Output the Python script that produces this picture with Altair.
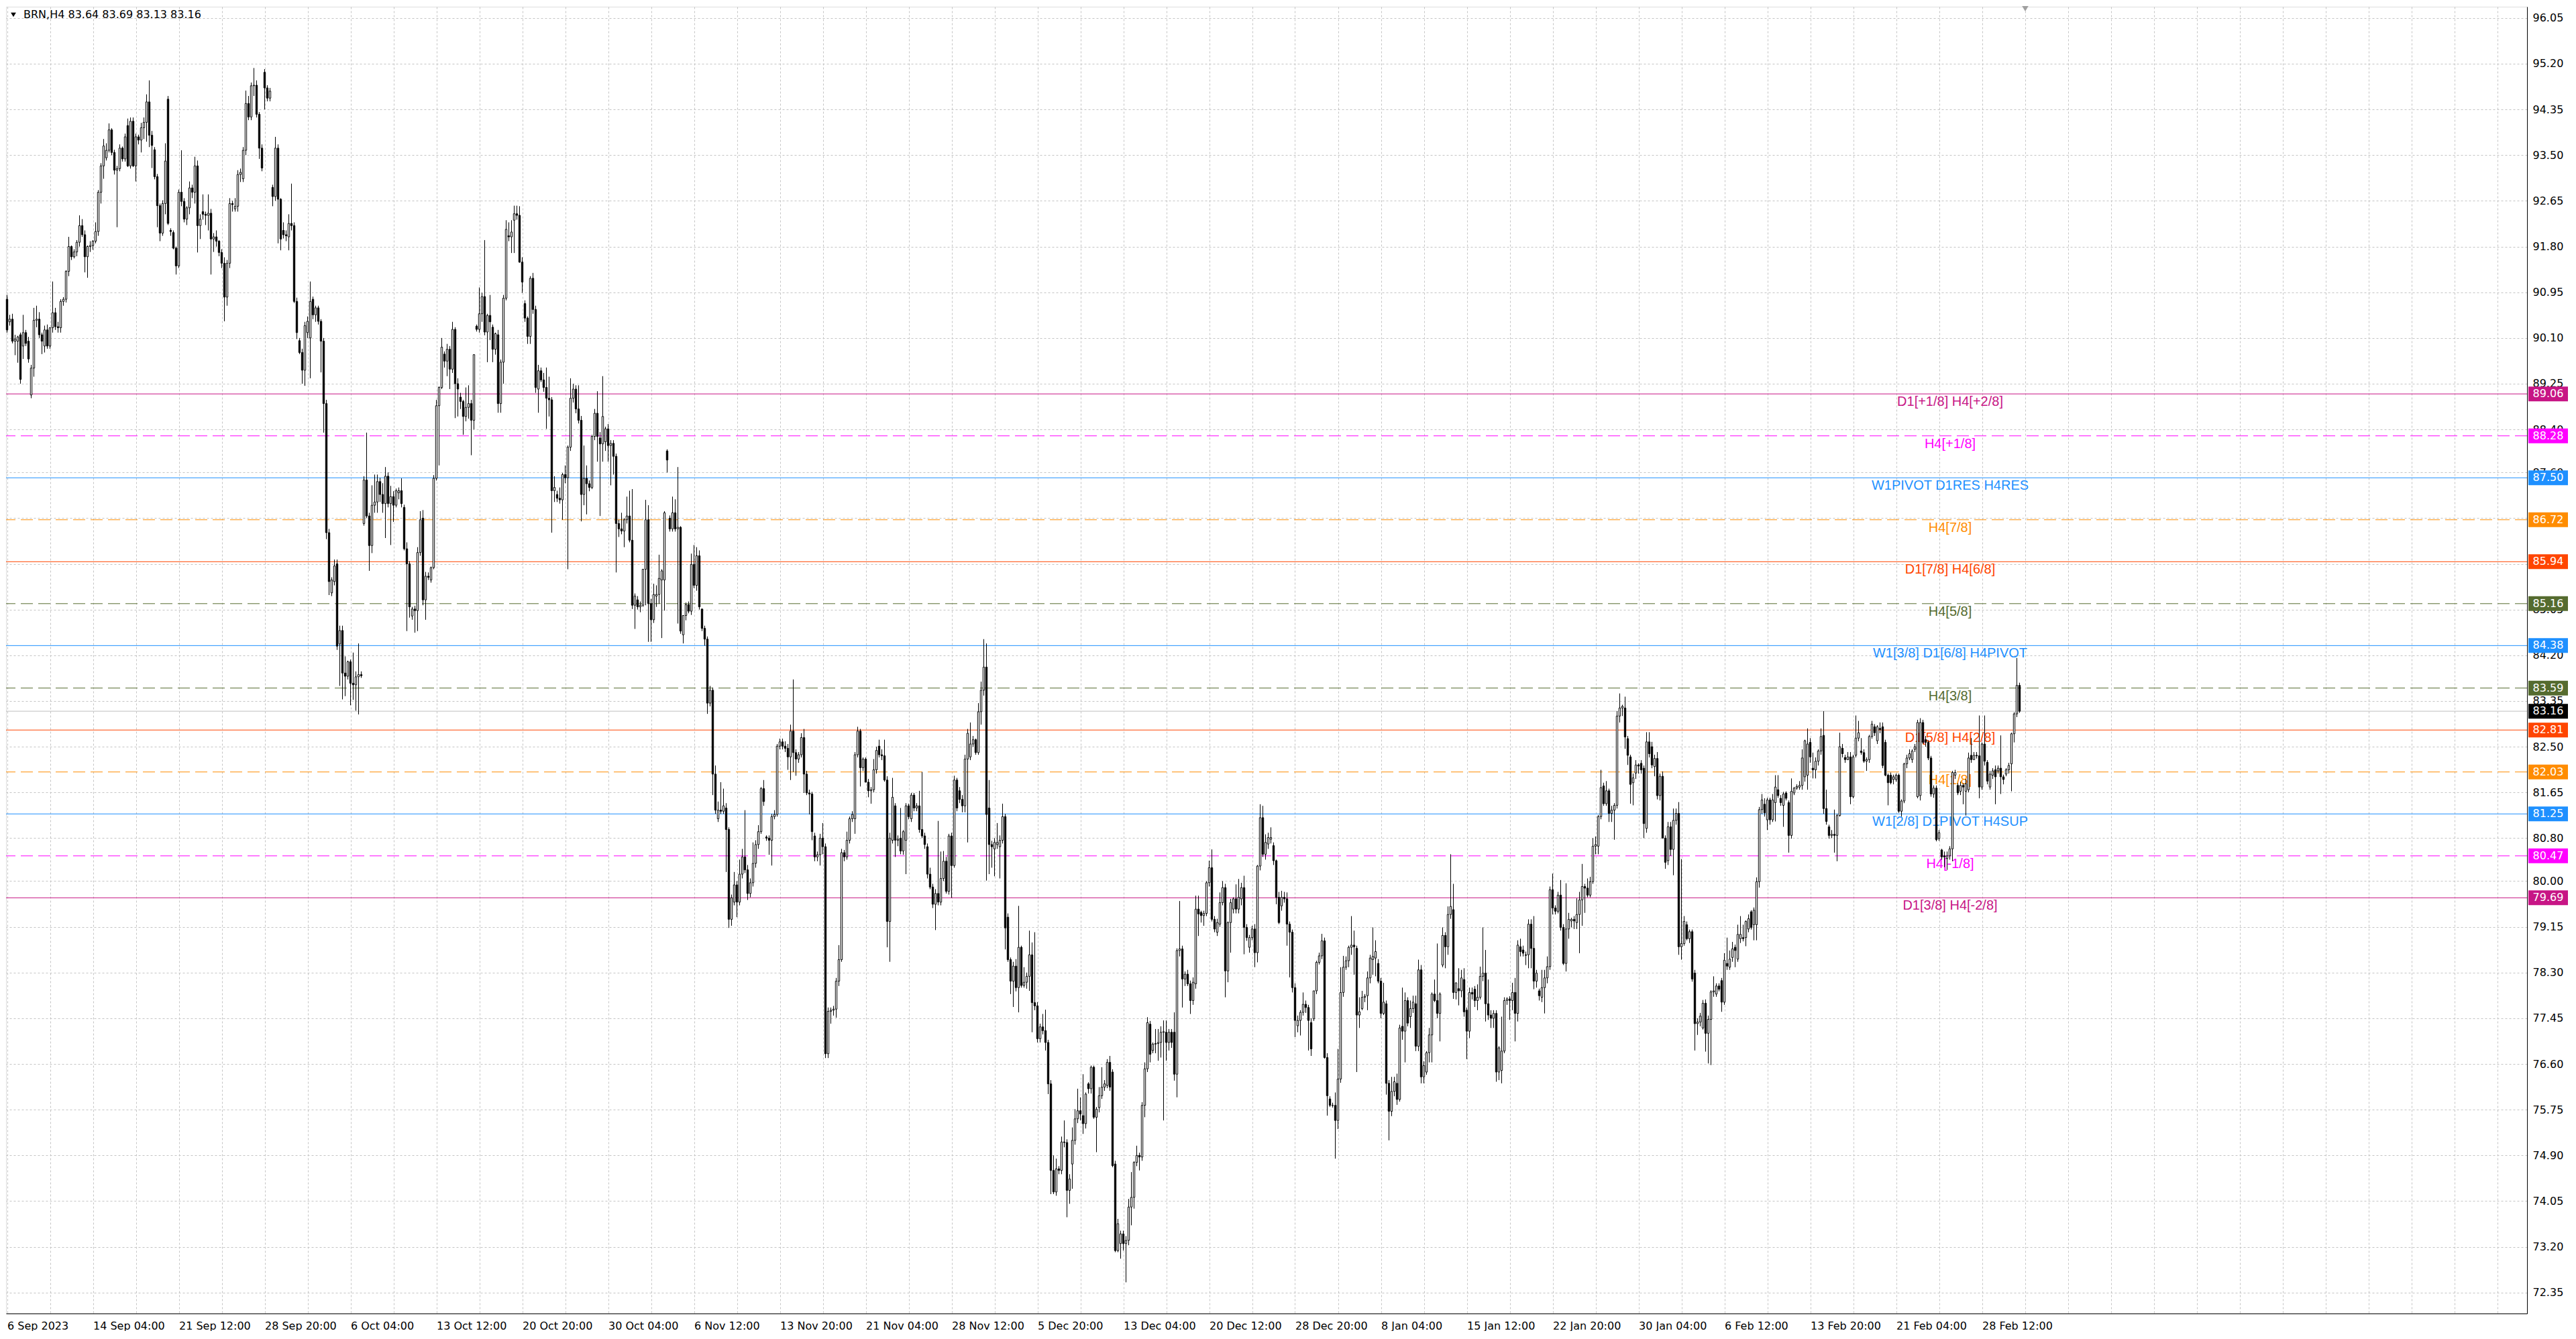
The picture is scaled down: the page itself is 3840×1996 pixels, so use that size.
import altair as alt
import pandas as pd

header_text = "BRN,H4  83.64 83.69 83.13 83.16"

# H4 candles (open, high, low, close), oldest first
seg_sep = [
(90.82,90.90,90.20,90.25),(90.40,90.53,90.33,90.45),(90.45,90.55,90.00,90.04),(90.04,90.16,89.78,90.08),
(90.04,90.14,89.64,90.12),(90.16,90.20,89.25,89.33),(89.95,90.53,89.71,90.20),(90.20,90.25,89.95,90.00),
(90.04,90.12,89.64,89.71),(89.04,89.60,88.98,89.54),(89.54,90.66,89.38,90.43),(90.43,90.70,90.30,90.45),
(90.45,90.58,90.10,90.16),(90.16,90.20,89.80,90.04),(89.95,90.33,89.83,90.25),(90.25,90.35,89.90,89.95),
(89.95,90.30,89.90,90.29),(90.29,91.15,90.20,90.57),(90.57,90.66,90.25,90.31),(90.31,90.40,90.20,90.29),
(90.29,90.82,90.20,90.78),(90.78,90.86,90.70,90.82),(90.82,91.36,90.76,91.34),(91.34,91.98,91.25,91.80),
(91.80,91.82,91.55,91.61),(91.61,91.75,91.58,91.70),(91.70,91.92,91.62,91.88),(91.88,92.38,91.80,92.19),
(92.19,92.31,91.98,92.02),(92.02,92.10,91.32,91.61),(91.61,91.82,91.22,91.80),(91.80,91.90,91.70,91.82),
(91.82,91.92,91.74,91.90),(91.90,92.25,91.86,92.08),(92.08,92.85,92.00,92.81),(92.81,93.35,92.60,93.30),
(93.30,93.80,93.06,93.67),(93.45,93.72,93.40,93.59),(93.59,94.09,93.55,93.97),(93.97,94.00,93.50,93.55),
(93.55,93.60,93.14,93.22),(93.22,93.30,92.16,93.25),(93.25,93.70,93.20,93.63),(93.63,93.66,93.38,93.43),
(93.43,93.90,93.38,93.84),(94.05,94.18,93.28,93.30),(93.30,94.20,93.25,94.13),(94.13,94.20,93.28,93.30),
(93.30,93.90,93.01,93.84),(93.84,93.88,93.70,93.78),(93.78,94.10,93.55,94.01),(94.01,94.20,93.80,94.11),
(94.11,94.63,93.75,94.49),(94.49,94.89,93.65,93.87),(93.87,93.95,93.26,93.68),(93.60,93.65,93.05,93.10),
(93.10,93.15,92.16,92.56),(92.56,92.60,91.90,92.05),(92.05,92.66,92.00,92.60),(92.60,93.72,92.40,93.39),
(94.54,94.60,92.20,92.23),(92.10,92.14,92.00,92.08),(92.06,92.10,91.75,91.77),(91.77,91.80,91.28,91.44),
(91.44,92.86,91.40,92.81),(92.81,93.59,92.55,92.64),(92.64,92.70,92.25,92.31),(92.31,92.55,92.20,92.52),
(92.52,93.01,92.40,92.89),(92.89,92.95,92.70,92.81),(92.81,93.47,92.60,93.30),(93.30,93.40,91.69,92.19),
(92.19,92.40,91.94,92.31),(92.45,92.77,92.30,92.40),(92.40,92.45,92.20,92.38),(92.38,92.77,92.10,92.42),
(92.42,92.50,91.28,91.94),(91.94,92.05,91.70,91.98),(91.98,92.10,91.80,91.90),(91.90,91.92,91.62,91.69),
(91.69,91.75,91.40,91.49),(91.49,91.60,90.41,90.86),(90.86,91.55,90.70,91.49),(91.49,92.70,91.40,92.60),
(92.60,92.65,92.45,92.58),(92.50,92.70,92.45,92.55),(92.55,93.22,92.45,93.14),(93.14,93.25,93.00,93.18),
(93.06,93.65,93.00,93.59),(93.59,94.70,93.50,94.46),(94.46,94.60,94.15,94.21),(94.21,94.85,94.15,94.79),
(94.79,95.12,94.60,94.80),(94.80,94.89,94.20,94.26),(94.26,94.30,93.43,93.63),(93.63,93.70,93.20,93.26),
(95.04,95.10,94.35,94.75),(94.75,94.80,94.50,94.56),(94.56,94.75,94.50,94.69),(92.90,92.95,92.55,92.73),
(92.73,93.84,92.65,93.63),(93.63,93.70,91.86,92.68),(92.68,92.70,91.73,91.94),(92.10,92.25,91.95,92.02),
(92.02,92.10,91.90,92.00),(91.98,92.40,91.73,92.23),(92.23,92.97,92.10,92.19),(92.19,92.25,90.75,90.78),
(90.78,90.85,90.08,90.20),(90.05,90.10,89.80,89.83),(89.83,89.90,89.25,89.50),(89.50,90.40,89.21,90.33),
(90.20,90.50,90.10,90.41),(90.10,91.15,89.35,90.78),(90.82,90.87,90.45,90.53),(90.53,90.70,90.40,90.66),
(90.66,90.70,90.35,90.41),(90.41,90.45,89.46,90.04),(90.04,90.10,88.34,88.88),(88.88,88.95,86.36,86.48),
(86.48,86.55,85.32,85.57),(85.36,85.65,85.30,85.60),(85.57,85.98,85.50,85.86),(85.90,85.98,84.30,84.37),
(84.41,84.75,83.63,84.66),(84.66,84.75,83.38,83.87),
]

seg_oct = [
(83.87,84.18,83.44,83.81),(83.81,84.10,83.75,84.08),(84.08,84.12,83.27,83.68),(83.68,84.25,83.37,83.65),
(83.65,83.90,83.17,83.80),(83.80,84.42,83.10,83.84),(83.84,83.90,83.78,83.82),(86.65,87.53,86.61,87.46),
(87.46,88.34,86.75,86.79),(86.79,86.85,85.77,86.24),(86.24,87.36,86.10,86.99),(86.99,87.56,86.85,87.05),
(87.05,87.56,86.85,87.43),(87.43,87.50,87.05,87.19),(87.19,87.40,86.85,87.02),(87.02,87.70,86.38,87.53),
(87.53,87.60,86.95,87.02),(87.02,87.35,86.25,87.15),(87.15,87.25,86.68,86.99),(86.99,87.30,86.95,87.26),
(87.22,87.32,87.10,87.26),(87.26,87.49,86.95,87.02),(86.95,87.00,86.15,86.18),(86.18,86.30,84.65,85.90),
(85.90,85.95,84.90,85.10),(84.93,85.10,84.86,85.06),(85.06,85.12,84.62,85.03),(85.03,86.21,84.65,86.11),
(86.11,86.88,86.05,86.72),(86.75,86.90,85.13,85.23),(85.23,85.75,84.86,85.67),(85.67,85.74,85.60,85.65),
(85.60,85.85,85.55,85.83),(85.83,87.55,85.80,87.49),(87.49,88.95,87.45,88.84),(88.84,89.20,87.73,89.18),
(89.18,90.10,89.15,89.93),(89.80,89.85,89.55,89.67),(89.67,89.99,89.39,89.89),(89.89,89.95,89.15,89.52),
(89.52,90.40,89.45,90.26),(90.26,90.30,88.61,89.25),(89.25,89.35,88.64,89.15),(89.00,89.08,88.78,88.92),
(88.92,88.95,88.30,88.64),(88.64,89.18,88.55,88.81),(88.81,89.22,88.60,88.88),(88.88,88.95,87.92,88.57),
(88.57,89.79,88.40,89.79),(90.32,90.35,90.22,90.26),(90.26,91.04,90.20,90.55),(90.55,90.94,90.40,90.87),
(90.87,91.92,90.15,90.21),(90.21,90.55,89.65,90.52),(90.52,90.90,90.06,90.40),(90.30,90.35,89.65,89.89),
(89.89,90.20,89.79,90.18),(90.16,90.25,88.71,88.88),(88.88,89.70,88.71,89.65),(89.65,90.90,89.25,90.84),
(90.84,92.29,90.80,92.12),(92.00,92.25,91.90,91.98),(91.98,92.29,91.68,92.07),(92.29,92.56,91.68,92.41),
(92.41,92.56,92.30,92.38),(92.38,92.55,91.50,91.51),(91.51,91.60,90.94,91.14),(90.74,90.80,90.40,90.47),
(90.47,90.50,89.99,90.13),(90.13,91.25,89.99,91.21),(91.21,91.31,90.55,90.63),(90.63,90.70,89.08,89.18),
(89.15,89.60,88.71,89.49),(89.49,89.55,89.28,89.32),(89.32,89.45,89.10,89.18),(89.18,89.55,88.41,88.98),
(88.98,89.38,88.64,88.95),(88.95,89.00,86.48,87.26),(87.26,87.53,87.05,87.32),(87.19,87.26,87.05,87.12),
(87.12,87.32,87.02,87.09),(87.09,87.59,86.72,87.56),(87.56,87.73,87.40,87.50),(87.50,88.10,85.80,88.07),
(88.07,89.35,88.00,88.98),(88.98,89.25,88.90,89.15),(89.15,89.22,88.70,88.78),(88.78,89.22,88.51,88.57),
(88.57,88.65,86.69,87.19),(87.19,88.10,86.99,87.49),(87.49,87.73,86.82,87.39),(87.39,87.45,87.25,87.32),
(87.32,88.30,87.29,88.27),(88.27,88.78,88.20,88.70),(88.70,89.11,87.80,88.27),(88.24,88.35,86.79,88.13),
(88.13,89.39,87.80,88.64),(88.17,88.45,88.00,88.41),(88.41,88.50,87.80,88.10),(88.10,88.20,87.36,88.14),
(88.14,88.20,87.56,87.90),(87.90,87.95,85.74,86.65),(86.65,86.72,86.40,86.55),(86.55,86.85,86.45,86.51),
(86.51,86.75,86.21,86.72),(86.72,87.15,86.65,86.79),(86.79,87.26,86.30,86.34),(86.34,87.29,85.06,85.13),
(85.13,85.35,84.69,85.30),(85.23,85.30,85.05,85.10),(85.10,85.20,85.00,85.13),(85.13,85.80,85.10,85.80),
(85.80,87.09,85.13,86.72),(86.72,86.99,84.45,85.16),(85.16,85.25,84.45,84.86),(84.86,85.53,84.80,85.33),
(85.30,85.50,85.10,85.33),(85.33,86.07,85.16,85.63),(85.60,85.80,84.52,85.77),(85.60,86.88,85.03,86.85),
(88.00,88.03,87.60,87.83),(86.75,86.80,86.50,86.55),(86.55,87.15,86.50,86.85),(86.85,87.10,86.50,86.55),
(86.55,87.70,84.79,86.58),(86.58,86.60,84.60,84.65),
]

seg_nov = [
(84.58,84.94,84.42,84.94),(84.94,85.18,84.85,85.14),(85.14,85.20,84.98,85.02),(85.02,86.09,84.95,85.89),
(85.89,86.25,85.45,85.50),(85.50,86.21,85.40,86.05),(86.05,86.15,85.05,85.10),(85.06,85.06,84.65,84.70),
(84.70,84.75,84.38,84.50),(84.50,84.55,83.11,83.31),(83.31,83.63,83.25,83.55),(83.55,83.60,81.60,81.99),
(81.99,82.15,81.25,81.32),(81.16,81.48,81.10,81.32),(81.32,81.84,81.25,81.30),(81.30,81.72,81.25,81.40),
(81.36,81.45,80.17,80.96),(80.96,81.00,79.13,79.29),(79.29,79.75,79.17,79.69),(79.61,80.17,79.55,79.93),
(79.93,80.00,79.33,79.61),(79.61,80.40,79.55,80.13),(80.13,80.60,80.05,80.45),(80.45,81.32,80.15,80.21),
(80.21,80.30,79.65,79.77),(79.77,80.05,79.70,79.97),(79.97,80.72,79.90,80.33),(80.33,80.76,80.25,80.68),
(80.68,81.04,80.60,80.92),(80.92,81.75,80.88,81.72),(81.72,81.88,81.40,81.48),(80.82,80.85,80.75,80.80),
(80.80,80.85,80.49,80.76),(80.76,81.25,80.29,81.20),(81.20,81.32,81.15,81.24),(81.24,82.55,81.20,82.51),
(82.51,82.65,82.45,82.59),(82.59,82.65,82.45,82.51),(82.51,82.60,82.40,82.47),(82.47,82.55,82.07,82.31),
(82.31,82.91,81.88,82.79),(82.79,83.75,82.03,82.39),(82.39,82.45,81.96,82.27),(82.27,82.40,82.20,82.35),
(82.35,82.75,82.30,82.67),(82.67,82.83,81.64,81.99),(81.99,82.05,81.60,81.64),(81.64,81.70,81.24,81.62),
(81.62,81.66,80.76,80.92),(80.84,80.90,80.37,80.45),(80.45,80.55,80.37,80.49),(80.49,80.88,80.29,80.80),
(80.80,81.08,80.50,80.64),(80.64,80.70,76.71,76.79),(76.79,77.65,76.71,77.58),(77.58,77.65,77.35,77.60),
(77.60,77.68,77.50,77.62),(77.62,78.20,77.46,78.14),(78.14,78.81,78.05,78.54),(78.54,80.60,78.50,80.53),
(80.53,80.58,80.37,80.45),(80.45,80.92,80.40,80.76),(80.76,81.20,80.70,81.16),(81.16,81.30,81.10,81.24),
(81.16,82.40,80.88,82.35),(82.35,82.87,82.30,82.79),(82.79,82.83,81.76,82.11),(82.11,82.30,82.05,82.27),
(82.27,82.30,81.84,81.84),(81.84,81.90,81.56,81.68),(81.68,81.75,81.44,81.70),(81.70,82.27,81.65,82.07),
(82.07,82.50,82.00,82.43),(82.51,82.63,82.30,82.35),(82.35,82.45,82.25,82.33),(82.33,82.63,81.85,81.88),
(81.88,81.95,78.77,79.25),(79.25,80.90,78.50,80.80),(80.76,81.92,80.70,81.56),(81.40,81.45,80.45,80.76),
(80.76,80.85,80.65,80.78),(80.80,81.36,80.50,80.56),(80.56,80.95,80.49,80.92),(80.76,81.45,80.13,81.40),
(81.40,81.44,81.15,81.20),(81.16,81.64,81.10,81.60),(81.60,81.64,81.30,81.36),(81.36,81.45,81.30,81.40),
(81.40,81.68,80.90,80.96),(80.96,82.03,80.80,80.84),(80.84,80.90,80.60,80.68),(80.64,80.70,80.05,80.13),
(80.13,80.25,79.85,79.89),(79.89,79.95,79.50,79.57),(79.57,79.85,79.09,79.77),(79.77,81.12,79.55,79.61),
(79.61,80.55,79.55,80.05),(80.05,80.56,80.00,80.37),(80.37,80.45,79.77,79.81),(79.81,80.88,79.75,80.84),
(80.84,80.90,79.69,80.29),(80.29,81.96,80.25,81.88),(81.88,81.92,81.30,81.36),(81.68,81.75,81.45,81.52),
(81.52,81.60,81.28,81.40),(81.40,82.35,81.28,82.27),(82.27,82.83,80.72,82.75),(82.31,82.95,82.25,82.55),
(82.55,82.70,82.50,82.63),(82.63,82.65,82.35,82.39),(82.39,83.31,82.35,83.15),(83.15,83.71,82.91,83.55),
(83.55,84.50,83.45,83.98),(83.98,84.42,80.01,81.24),(81.36,81.88,80.13,80.68),(80.68,80.75,80.25,80.64),
(80.60,80.80,80.09,80.72),(80.68,81.08,80.60,80.72),(80.64,80.85,80.05,80.76),(80.76,81.44,80.70,81.20),
(81.20,81.25,78.73,79.13),(79.33,79.40,78.50,78.54),(78.54,78.58,77.90,78.14),(78.14,78.50,77.66,78.42),
]

seg_dec = [
(78.42,78.55,77.95,78.02),(78.02,79.54,77.56,78.77),(78.77,78.80,78.02,78.06),(78.06,78.40,78.02,78.12),
(78.12,78.30,78.00,78.23),(78.23,79.08,77.96,78.63),(78.63,78.86,77.19,77.74),(77.74,79.05,77.60,77.68),
(77.68,77.75,77.00,77.07),(77.07,77.35,77.00,77.29),(77.29,77.53,77.15,77.22),(77.22,77.61,76.85,77.00),
(77.00,77.05,76.04,76.23),(76.23,76.30,74.18,74.62),(74.62,74.90,74.18,74.22),(74.22,74.84,74.15,74.65),
(74.65,74.70,74.55,74.62),(74.62,75.25,74.55,75.15),(75.15,75.55,75.05,75.14),(75.14,75.20,73.75,74.25),
(74.25,74.55,74.00,74.46),(74.74,75.42,74.28,75.18),(75.18,75.76,75.10,75.58),(75.58,76.14,75.50,75.73),
(75.73,75.98,75.55,75.67),(75.64,76.41,75.30,75.49),(75.49,76.07,75.40,76.04),(76.23,76.26,76.05,76.14),
(76.14,76.57,76.05,76.54),(76.54,76.57,75.58,75.61),(75.61,75.80,74.96,75.76),(75.79,76.17,75.70,76.01),
(76.01,76.54,75.95,76.17),(76.17,76.30,76.10,76.23),(76.20,76.69,76.15,76.63),(76.63,76.75,76.10,76.17),
(76.45,76.50,74.68,74.71),(74.74,74.80,73.10,73.13),(73.13,73.72,73.10,73.63),(73.26,73.50,72.98,73.44),
(73.44,73.50,73.13,73.26),(73.26,73.40,72.54,73.32),(73.32,74.09,73.23,73.94),(73.94,74.59,73.60,74.12),
(74.12,74.79,73.91,74.77),(74.77,75.08,74.70,74.90),(74.90,74.95,74.62,74.87),(74.87,75.89,74.80,75.83),
(75.83,76.63,75.61,76.51),(76.51,77.47,76.45,77.37),(77.34,77.40,76.63,76.78),(76.85,77.00,76.80,76.97),
(76.97,77.25,76.80,76.98),(76.98,77.25,76.66,77.00),(77.00,77.30,76.72,77.19),(77.19,77.41,75.55,77.20),
(77.19,77.41,76.66,77.00),(77.00,77.25,76.85,77.19),(77.19,77.25,76.90,77.00),(77.19,77.56,76.29,76.41),
(76.41,78.75,75.98,78.71),(78.71,79.63,78.60,78.74),(78.74,78.80,77.65,78.18),(78.18,78.32,78.05,78.27),
(78.27,78.35,78.05,78.09),(78.09,78.15,77.53,77.78),(77.78,78.21,77.70,78.12),(78.09,79.73,78.00,79.48),
(79.48,79.73,78.98,79.39),(79.42,79.45,79.23,79.36),(79.36,79.45,79.17,79.40),(79.40,80.00,79.35,79.97),
(79.97,80.38,79.90,80.25),(80.25,80.59,79.25,79.29),(79.29,79.35,79.05,79.11),(79.05,79.30,78.98,79.23),
(79.20,79.79,79.15,79.60),(79.60,80.00,79.55,79.88),(79.88,79.95,77.84,78.33),(78.33,79.25,78.12,79.23),
(79.23,79.67,78.67,79.60),(79.48,79.70,79.40,79.67),(79.67,79.94,79.40,79.48),(79.48,80.04,79.40,79.70),
(79.67,79.97,79.55,79.88),(79.88,80.10,78.64,79.14),(79.14,79.20,78.89,78.95),(78.77,79.00,78.67,78.95),
(78.95,79.17,78.90,79.11),(79.11,79.20,78.40,78.67),(78.67,80.30,78.49,80.28),(80.28,81.43,80.20,81.18),
(81.18,81.40,80.45,80.50),(80.50,80.87,80.40,80.72),(80.69,80.90,80.60,80.81),(80.78,81.00,80.70,80.81),
(80.66,80.72,80.30,80.38),(80.38,80.40,79.57,79.70),(79.70,79.80,79.20,79.23),(79.54,79.82,79.45,79.70),
(79.70,79.80,79.60,79.67),(79.67,79.79,78.80,79.20),(79.20,79.25,78.21,79.05),(79.05,79.10,77.93,78.02),
(78.02,78.10,77.10,77.41),(77.31,77.50,77.19,77.41),(77.41,77.60,77.13,77.56),(77.56,77.93,77.50,77.71),
(77.71,77.78,77.55,77.65),(77.65,77.70,76.85,77.41),(77.37,77.45,76.75,76.88),(77.44,77.96,77.40,77.96),
(77.96,78.52,77.90,78.49),(78.49,78.67,78.45,78.61),(78.61,79.02,78.55,78.89),(78.89,78.95,76.70,76.72),
(76.72,76.80,75.64,76.01),(75.95,76.00,75.80,75.83),(75.83,75.88,75.79,75.83),(75.83,76.07,74.84,75.55),
(75.55,76.88,75.39,76.32),(76.32,78.40,76.25,77.93),(77.93,78.61,77.85,78.40),(78.40,78.60,78.35,78.52),
(78.52,78.80,78.40,78.77),
]

seg_jan = [
(78.77,79.35,78.63,78.81),(78.81,79.08,78.26,78.78),(78.75,78.80,76.45,77.51),(77.51,77.84,77.27,77.57),
(77.63,77.96,77.60,77.84),(77.84,77.90,77.75,77.86),(77.87,78.32,77.60,78.20),(78.20,78.63,78.10,78.57),
(78.54,79.14,78.26,78.60),(78.57,78.90,78.23,78.69),(78.47,78.55,78.10,78.14),(78.14,78.20,77.45,77.54),
(77.54,78.11,77.51,77.75),(77.72,77.78,76.03,76.24),(76.24,76.30,75.18,75.72),(75.72,76.36,75.63,76.09),
(76.09,76.36,76.00,76.27),(76.24,76.42,75.84,75.94),(75.94,77.33,75.90,77.27),(77.30,78.02,77.05,77.21),
(77.21,77.93,76.63,77.78),(77.78,77.84,77.30,77.36),(77.48,77.78,77.27,77.63),(77.63,77.87,77.55,77.75),
(77.72,77.87,76.84,76.93),(76.93,78.54,76.84,78.35),(78.35,78.44,76.24,76.36),(76.36,76.65,76.24,76.57),
(76.45,76.84,76.40,76.81),(76.81,77.27,76.63,77.14),(77.14,77.93,76.63,77.90),(77.90,78.17,77.75,77.78),
(77.78,78.84,77.45,77.54),(77.54,77.93,77.02,77.90),(78.44,79.14,78.40,78.99),(78.99,79.05,78.38,78.78),
(78.78,79.53,78.63,79.38),(79.38,80.50,79.30,79.53),(79.47,79.95,77.81,77.93),(77.93,78.11,77.80,78.11),
(78.00,78.38,77.69,77.96),(77.96,78.35,77.84,78.20),(78.17,78.38,77.48,77.57),(77.60,77.65,76.69,77.21),
(77.21,78.02,77.08,77.93),(77.93,78.02,77.80,77.90),(77.99,78.05,77.66,77.78),(77.78,78.08,77.60,77.84),
(77.84,78.41,77.80,78.23),(78.23,79.14,78.14,78.29),(78.29,78.72,77.39,77.72),(77.72,78.17,77.42,77.51),
(77.51,77.60,77.27,77.45),(77.45,77.60,77.27,77.54),(77.54,77.60,76.27,76.45),(76.45,76.93,76.30,76.90),
(76.48,77.48,76.24,76.84),(76.84,77.84,76.80,77.78),(77.78,77.84,77.70,77.81),(77.81,77.86,77.42,77.78),
(77.78,78.11,77.60,77.93),(77.93,78.20,77.02,77.54),(77.54,78.90,77.39,78.81),(78.78,78.93,78.60,78.69),
(78.72,78.80,78.60,78.66),(78.63,78.69,78.44,78.62),(78.63,79.29,78.38,79.20),(79.20,79.29,78.38,78.75),
(78.75,79.35,77.99,78.14),(78.14,78.35,78.02,78.29),(77.96,78.00,77.78,77.87),(77.84,78.35,77.75,78.02),
(78.02,78.35,77.54,78.20),(78.20,78.60,78.10,78.41),(78.41,79.90,78.35,79.84),(79.84,80.14,79.38,79.50),
(79.50,79.55,79.38,79.44),(79.44,79.80,79.40,79.74),(79.74,80.02,79.08,79.14),(79.14,79.20,78.44,78.47),
(78.47,79.96,78.32,79.11),(79.11,79.41,78.93,79.29),(79.26,79.32,79.14,79.29),(79.29,79.35,79.11,79.26),
(79.23,79.68,79.11,79.38),(79.38,79.80,78.66,79.65),(79.65,80.32,79.17,79.90),(79.90,79.95,79.41,79.87),
(79.87,80.05,79.70,79.74),(79.74,80.08,79.70,79.99),(79.99,80.80,79.95,80.65),(80.65,80.83,80.50,80.68),
(80.65,81.23,80.50,81.20),(81.20,82.07,81.15,81.74),(81.77,81.83,81.40,81.44),(81.44,81.86,81.40,81.68),
(81.68,81.72,81.10,81.26),(81.26,81.40,81.10,81.32),(81.32,81.45,80.77,81.41),(81.41,83.16,81.35,83.07),
(83.07,83.49,82.95,83.22),(83.22,83.28,83.07,83.25),(83.22,83.43,82.46,82.68),(82.65,82.70,82.16,82.34),
(82.31,82.35,81.44,81.80),(81.83,82.00,81.41,81.92),(82.01,82.25,81.90,82.16),(82.16,82.19,82.00,82.14),
(82.19,82.25,82.00,82.07),(82.10,82.15,80.80,81.07),(80.98,82.77,80.90,82.59),(82.59,82.77,82.30,82.37),
(82.50,82.59,82.10,82.16),(82.13,82.35,81.95,82.28),(82.28,82.40,81.52,81.59),(81.59,82.00,81.50,81.95),
(81.95,82.04,80.80,80.80),(80.80,80.85,80.23,80.35),(80.38,81.10,80.30,81.01),(81.01,81.10,80.47,80.59),
(80.59,81.35,80.11,81.13),(81.13,81.35,81.05,81.26),(81.26,81.47,78.63,78.78),(78.78,80.41,78.54,78.84),
(78.84,79.35,78.80,79.25),
]

seg_feb = [
(79.19,79.25,78.90,78.93),(78.93,79.10,78.85,79.06),(79.06,79.10,78.13,78.18),(78.29,78.35,76.85,77.35),
(77.35,77.45,77.14,77.38),(77.38,77.55,77.30,77.49),(77.27,77.79,77.24,77.73),(77.73,77.80,76.83,77.17),
(77.17,77.50,76.61,77.43),(77.43,77.97,76.58,77.94),(77.94,78.23,77.85,77.96),(77.90,78.10,77.85,78.05),
(78.05,78.10,77.95,77.99),(78.15,78.20,77.57,77.75),(77.75,78.66,77.70,78.53),(78.47,78.95,78.35,78.42),
(78.40,78.71,78.35,78.55),(78.58,78.87,78.50,78.74),(78.77,78.82,78.40,78.71),(78.55,79.19,78.50,79.01),
(78.93,79.35,78.85,79.01),(78.95,79.19,78.88,78.93),(78.95,79.27,78.79,79.25),(79.11,79.38,79.05,79.30),
(79.43,79.46,79.10,79.14),(79.19,79.51,78.90,79.46),(79.19,80.07,78.90,79.99),(79.99,81.38,79.88,81.33),
(81.33,81.62,81.25,81.51),(81.43,81.54,81.20,81.27),(81.14,81.55,80.95,81.51),(81.51,81.55,81.05,81.14),
(81.14,81.62,81.10,81.51),(81.46,81.97,81.11,81.75),(81.70,81.97,81.55,81.59),(81.54,81.60,81.40,81.46),
(81.41,81.66,81.01,81.62),(81.64,81.67,81.50,81.54),(81.46,81.50,80.53,80.85),(80.85,81.91,80.79,81.67),
(81.64,81.75,81.60,81.73),(81.73,81.80,81.70,81.76),(81.75,81.86,81.70,81.78),(81.78,82.45,81.70,82.29),
(81.94,82.63,81.85,82.61),(81.97,82.84,81.70,82.55),(82.58,82.66,82.20,82.31),(82.10,82.39,81.91,82.07),
(82.07,82.30,81.91,82.23),(82.23,82.45,82.15,82.42),(82.42,82.84,82.35,82.69),(82.71,83.16,81.25,81.35),
(81.35,81.70,81.05,81.11),(81.01,81.05,80.79,80.85),(80.85,80.95,80.80,80.87),(80.87,81.33,80.53,80.85),
(80.85,81.25,80.37,81.22),(81.22,82.76,81.20,82.50),(82.47,82.55,82.30,82.37),(82.30,82.35,82.20,82.26),
(82.26,82.40,82.25,82.31),(82.31,82.40,81.43,81.57),(81.57,82.35,81.54,82.31),(82.34,83.08,82.30,82.66),
(82.66,82.98,82.60,82.76),(82.42,82.66,82.35,82.39),(82.39,82.45,82.20,82.23),(82.23,82.30,82.05,82.26),
(82.26,82.72,82.20,82.69),(82.69,82.98,82.65,82.92),(82.87,82.92,82.70,82.76),(82.61,82.90,82.55,82.87),
(82.84,82.95,82.75,82.82),(82.87,82.95,82.10,82.15),(82.58,82.63,81.95,81.97),(81.97,82.00,81.41,81.83),
(81.97,82.02,81.80,81.83),(81.89,81.98,81.80,81.94),(81.89,82.00,81.85,81.97),(81.97,82.00,81.27,81.30),
(81.30,81.52,81.20,81.49),(81.49,82.20,81.45,82.18),(82.18,82.35,82.10,82.29),(82.29,82.45,82.25,82.37),
(82.26,82.45,82.20,82.42),(82.45,82.55,82.40,82.50),(81.57,83.00,81.54,82.95),(81.59,83.03,81.50,82.95),
(82.95,83.00,82.55,82.58),(82.63,82.70,82.50,82.58),(82.58,82.62,82.25,82.29),(82.29,82.33,81.57,81.62),
(81.62,81.78,81.55,81.73),(81.73,81.78,80.74,80.77),(80.79,80.95,80.75,80.90),(80.58,80.60,80.40,80.45),
(80.47,80.55,80.26,80.45),(80.42,80.55,80.21,80.47),(80.47,80.65,80.40,80.60),(80.60,82.05,80.37,82.02),
(81.97,82.07,81.90,82.02),(81.78,81.82,81.60,81.64),(81.67,81.85,81.60,81.78),(81.78,81.82,81.43,81.75),
(81.67,81.90,81.22,81.81),(81.70,82.39,81.65,82.29),(82.34,82.66,82.20,82.26),(82.26,82.40,82.25,82.34),
(82.34,82.40,82.28,82.33),(82.33,83.08,81.54,81.75),(81.75,82.58,81.70,82.55),(82.55,83.08,82.15,82.23),
(82.21,82.25,81.80,81.86),(81.75,82.05,81.70,81.99),(81.97,82.10,81.90,82.05),(82.07,82.15,81.43,81.94),
(82.05,82.15,82.00,82.10),(82.10,82.71,81.62,81.94),(81.94,81.98,81.80,81.89),(81.99,82.10,81.95,82.07),
(82.07,82.20,82.00,82.15),(82.18,82.76,81.67,82.74),(82.74,83.14,82.58,83.11),(83.11,84.15,83.05,83.64),
(83.64,83.69,83.13,83.16),
]

# Murrey-math / pivot levels drawn as horizontal lines
level_prices = [89.06, 88.28, 87.50, 86.72, 85.94, 85.16, 84.38, 83.59, 82.81, 82.03, 81.25, 80.47, 79.69]
level_names = ["D1[+1/8] H4[+2/8]", "H4[+1/8]", "W1PIVOT D1RES H4RES", "H4[7/8]", "D1[7/8] H4[6/8]",
               "H4[5/8]", "W1[3/8] D1[6/8] H4PIVOT", "H4[3/8]", "D1[5/8] H4[2/8]", "H4[1/8]",
               "W1[2/8] D1PIVOT H4SUP", "H4[-1/8]", "D1[3/8] H4[-2/8]"]
level_colors = ["#C71585", "#FF00FF", "#1E90FF", "#FF8C00", "#FF4500", "#556B2F", "#1E90FF",
                "#556B2F", "#FF4500", "#FF8C00", "#1E90FF", "#FF00FF", "#C71585"]
level_styles = ["solid", "dash", "solid", "dash", "solid", "dash", "solid",
                "dash", "solid", "dash", "solid", "dash", "solid"]
last_price = 83.16

y_tick_values = [96.05, 95.20, 94.35, 93.50, 92.65, 91.80, 90.95, 90.10, 89.25, 88.40, 87.60, 86.75,
                 85.90, 85.05, 84.20, 83.35, 82.50, 81.65, 80.80, 80.00, 79.15, 78.30, 77.45, 76.60,
                 75.75, 74.90, 74.05, 73.20, 72.35]
date_tick_bars = [1, 33, 65, 97, 129, 161, 193, 225, 257, 289, 321, 353, 385, 417, 449, 481,
                  513, 545, 577, 609, 641, 673, 705, 737]
date_tick_labels = ["6 Sep 2023", "14 Sep 04:00", "21 Sep 12:00", "28 Sep 20:00", "6 Oct 04:00",
                    "13 Oct 12:00", "20 Oct 20:00", "30 Oct 04:00", "6 Nov 12:00", "13 Nov 20:00",
                    "21 Nov 04:00", "28 Nov 12:00", "5 Dec 20:00", "13 Dec 04:00", "20 Dec 12:00",
                    "28 Dec 20:00", "8 Jan 04:00", "15 Jan 12:00", "22 Jan 20:00", "30 Jan 04:00",
                    "6 Feb 12:00", "13 Feb 20:00", "21 Feb 04:00", "28 Feb 12:00"]

# ---------------------------------------------------------------------------
W, H = 3758, 1948
FONT = "DejaVu Sans"
X0 = 0.625
X1 = X0 + W / 4.0

rows = seg_sep + seg_oct + seg_nov + seg_dec + seg_jan + seg_feb
df = pd.DataFrame(rows, columns=["open", "high", "low", "close"])
df["k"] = range(1, len(df) + 1)
df["top"] = df[["open", "close"]].max(axis=1)
df["bot"] = df[["open", "close"]].min(axis=1)
df["xl"] = df["k"] - 0.3
df["xr"] = df["k"] + 0.3

lev = pd.DataFrame({"price": level_prices, "name": level_names,
                    "color": level_colors, "style": level_styles})
boxes = pd.DataFrame({"price": level_prices + [last_price],
                      "color": level_colors + ["#000000"]})

xs = alt.Scale(domain=[X0, X1], nice=False, zero=False)
ys = alt.Scale(domain=[71.96, 96.26], nice=False, zero=False)

bars_js = "[" + ",".join(str(b) for b in date_tick_bars) + "]"
labels_js = "[" + ",".join("'" + s + "'" for s in date_tick_labels) + "]"
x_label_expr = f"indexof({bars_js}, datum.value) >= 0 ? {labels_js}[indexof({bars_js}, datum.value)] : ''"

x_axis = alt.Axis(values=list(range(1, int(X1), 16)), labelExpr=x_label_expr,
                  title=None, grid=True, gridDash=[3, 3], gridColor="#c4c4c4", gridWidth=1,
                  ticks=False, domain=True, domainColor="black", labelAlign="left",
                  labelBaseline="top", labelPadding=10, labelFont=FONT, labelFontSize=16,
                  labelColor="black", labelOverlap=False, labelFlush=False, zindex=0)
y_axis = alt.Axis(orient="right", values=y_tick_values, format=".2f", title=None,
                  grid=True, gridDash=[3, 3], gridColor="#c4c4c4", gridWidth=1,
                  ticks=False, domain=True, domainColor="black", labelPadding=8,
                  labelFont=FONT, labelFontSize=16, labelColor="black",
                  labelOverlap=False, labelFlush=False, zindex=0)


def X(field):
    return alt.X(field, scale=xs, axis=x_axis)


def Y(field):
    return alt.Y(field, scale=ys, axis=y_axis)


base = alt.Chart(df)

wicks = base.mark_rule(color="black", strokeWidth=1).encode(
    x=X("k:Q"), y=Y("high:Q"), y2="low:Q",
)
bodies = base.mark_rect(stroke="black", strokeWidth=1).encode(
    x=X("xl:Q"), x2="xr:Q", y=Y("top:Q"), y2="bot:Q",
    fill=alt.condition("datum.close >= datum.open", alt.value("white"), alt.value("black")),
)

lines_solid = alt.Chart(lev).transform_filter("datum.style == 'solid'").mark_rule(strokeWidth=1).encode(
    y=Y("price:Q"), color=alt.Color("color:N", scale=None),
)
lines_dash = alt.Chart(lev).transform_filter("datum.style == 'dash'").mark_rule(
    strokeWidth=1, strokeDash=[18, 8]).encode(
    y=Y("price:Q"), color=alt.Color("color:N", scale=None),
)
price_line = alt.Chart(pd.DataFrame({"price": [last_price]})).mark_rule(
    color="#c0c0c0", strokeWidth=1).encode(y=Y("price:Q"))

level_text = alt.Chart(lev).mark_text(font="Liberation Sans", fontSize=20, align="center",
                                      baseline="middle", dy=12).encode(
    x=alt.value(2898), y=Y("price:Q"), text="name:N",
    color=alt.Color("color:N", scale=None),
)

box_rect = alt.Chart(boxes).mark_rect(yOffset=-11, y2Offset=11).encode(
    x=alt.value(W + 2), x2=alt.value(W + 61),
    y=Y("price:Q"), y2="price:Q",
    color=alt.Color("color:N", scale=None),
)
box_text = alt.Chart(boxes).mark_text(font=FONT, fontSize=16, color="white",
                                      align="center", baseline="middle").encode(
    x=alt.value(W + 31.5), y=Y("price:Q"),
    text=alt.Text("price:Q", format=".2f"),
)

hdr = pd.DataFrame({"t": [header_text]})
header = alt.Chart(hdr).mark_text(font=FONT, fontSize=16, align="left", baseline="middle",
                                  color="black").encode(x=alt.value(26), y=alt.value(12), text="t:N")
tri = alt.Chart(hdr).mark_point(shape="triangle-down", filled=True, color="black", size=60,
                                opacity=1).encode(x=alt.value(11), y=alt.value(12))
shift_mark = alt.Chart(hdr).mark_point(shape="triangle-down", filled=True, color="#a0a0a0",
                                       size=90, opacity=1).encode(x=alt.value(3010), y=alt.value(3))

chart = alt.layer(
    lines_solid, lines_dash, price_line, level_text, wicks, bodies, box_rect, box_text,
    header, tri, shift_mark
).properties(width=W, height=H, padding=0).configure_view(
    stroke="black", strokeWidth=1).configure(background="white")

chart.save("out.html", embed_options={"renderer": "svg", "actions": False})
